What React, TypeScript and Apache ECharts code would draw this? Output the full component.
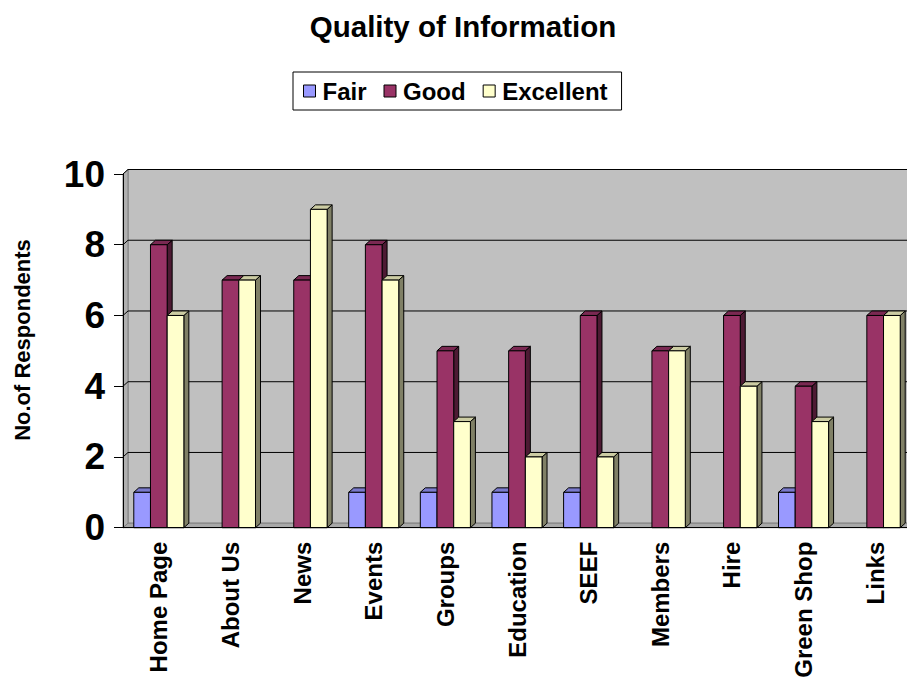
import React, { useEffect, useRef } from "react";
import * as echarts from "echarts";

// Survey results: respondents per rating for each website section
const categories = [
  "Home Page",
  "About Us",
  "News",
  "Events",
  "Groups",
  "Education",
  "SEEF",
  "Members",
  "Hire",
  "Green Shop",
  "Links",
];
const fair = [1, 0, 0, 1, 1, 1, 1, 0, 0, 1, 0];
const good = [8, 7, 7, 8, 5, 5, 6, 5, 6, 4, 6];
const excellent = [6, 7, 9, 7, 3, 2, 2, 5, 4, 3, 6];
const yTicks = [0, 2, 4, 6, 8, 10];

const FONT = '"Liberation Sans", Arial, Helvetica, sans-serif';
// depth offset of the pseudo-3D box (right and up)
const DX = 5;
const DY = 4.5;
// each column's width as a share of the category band
const BAR_RATIO = 0.233;

type Shade = { front: string; top: string; side: string };
const shades: Shade[] = [
  { front: "#9999FF", top: "#7A7ACC", side: "#4D4D80" },
  { front: "#993366", top: "#7A2952", side: "#4D1A33" },
  { front: "#FFFFCC", top: "#CCCCA3", side: "#808066" },
];

function columnSeries(name: string, values: number[], slot: number) {
  const shade = shades[slot];
  return {
    type: "custom",
    name,
    z: 2 + slot,
    data: values.map((v, i) => [i, v]),
    encode: { x: 0, y: 1 },
    itemStyle: { color: shade.front },
    renderItem: (_params: any, api: any) => {
      const idx = api.value(0);
      const v = api.value(1);
      if (!v) return { type: "group", children: [] };
      const band = api.size([1, 0])[0];
      const w = band * BAR_RATIO;
      const [cx, yv] = api.coord([idx, v]);
      const y0 = api.coord([idx, 0])[1];
      const x = cx - 1.5 * w + slot * w;
      const edge = { stroke: "#000", lineWidth: 1, lineJoin: "miter" };
      return {
        type: "group",
        children: [
          {
            type: "polygon",
            shape: {
              points: [
                [x + w, yv],
                [x + w + DX, yv - DY],
                [x + w + DX, y0 - DY],
                [x + w, y0],
              ],
            },
            style: { fill: shade.side, ...edge },
          },
          {
            type: "polygon",
            shape: {
              points: [
                [x, yv],
                [x + DX, yv - DY],
                [x + w + DX, yv - DY],
                [x + w, yv],
              ],
            },
            style: { fill: shade.top, ...edge },
          },
          {
            type: "rect",
            shape: { x, y: yv, width: w, height: y0 - yv },
            style: { fill: shade.front, ...edge },
          },
        ],
      };
    },
  };
}

// back wall, side wall, floor and gridlines of the plot box
const wallSeries = {
  type: "custom",
  name: "wall",
  silent: true,
  z: 1,
  data: [[0, 0]],
  encode: { x: 0, y: 1 },
  renderItem: (params: any, api: any) => {
    const cs = params.coordSys;
    const x0 = cs.x;
    const x1 = cs.x + cs.width + 20;
    const yT = cs.y;
    const yB = cs.y + cs.height;
    const children: any[] = [
      {
        type: "polygon",
        shape: {
          points: [
            [x0 + DX, yT - DY],
            [x1, yT - DY],
            [x1, yB - DY],
            [x0 + DX, yB - DY],
          ],
        },
        style: { fill: "#C0C0C0", stroke: "#808080", lineWidth: 1 },
      },
      {
        type: "polygon",
        shape: {
          points: [
            [x0, yB],
            [x0, yT],
            [x0 + DX, yT - DY],
            [x0 + DX, yB - DY],
          ],
        },
        style: { fill: "#B0B0B0", stroke: "#808080", lineWidth: 1 },
      },
      {
        type: "polygon",
        shape: {
          points: [
            [x0, yB],
            [x1, yB],
            [x1, yB - DY],
            [x0 + DX, yB - DY],
          ],
        },
        style: { fill: "#A8A8A8", stroke: "#808080", lineWidth: 1 },
      },
    ];
    for (const t of yTicks) {
      if (t === 0) continue;
      const y = api.coord([0, t])[1];
      children.push({
        type: "polyline",
        shape: {
          points: [
            [x0, y],
            [x0 + DX, y - DY],
            [x1, y - DY],
          ],
        },
        style: { stroke: "#000", lineWidth: 1, fill: null },
      });
    }
    return { type: "group", children };
  },
};

export default function App() {
  const ref = useRef<HTMLDivElement>(null);

  useEffect(() => {
    if (!ref.current) return;
    const chart = echarts.init(ref.current, undefined, { renderer: "svg" });
    chart.setOption({
      animation: false,
      backgroundColor: "#FFFFFF",
      textStyle: { fontFamily: FONT },
      title: {
        text: "Quality of Information",
        left: 458,
        textAlign: "center",
        top: 6,
        textStyle: {
          fontFamily: FONT,
          fontSize: 29.5,
          fontWeight: "bold",
          color: "#000",
        },
      },
      legend: {
        data: ["Fair", "Good", "Excellent"],
        left: 293,
        top: 72,
        padding: [7, 14, 7, 10],
        itemGap: 17,
        itemWidth: 12,
        itemHeight: 12,
        icon: "rect",
        borderColor: "#000",
        borderWidth: 1,
        itemStyle: { borderColor: "#000", borderWidth: 1 },
        textStyle: {
          fontFamily: FONT,
          fontSize: 24,
          fontWeight: "bold",
          color: "#000",
          padding: [0, 0, 0, 2],
        },
      },
      grid: {
        left: 123,
        top: 174,
        width: 788,
        height: 353.7,
        outerBoundsMode: "none",
      },
      xAxis: {
        type: "category",
        data: categories,
        z: 6,
        axisLine: { lineStyle: { color: "#000", width: 1 } },
        axisTick: { length: 7, lineStyle: { color: "#000" } },
        axisLabel: {
          rotate: 90,
          margin: 14,
          fontFamily: FONT,
          fontSize: 24,
          fontWeight: "bold",
          color: "#000",
          interval: 0,
        },
        splitLine: { show: false },
      },
      yAxis: {
        type: "value",
        min: 0,
        max: 10,
        interval: 2,
        z: 6,
        axisLine: { show: true, lineStyle: { color: "#000", width: 1 } },
        axisTick: { show: true, length: 9, lineStyle: { color: "#000" } },
        axisLabel: {
          margin: 18,
          fontFamily: FONT,
          fontSize: 37,
          fontWeight: "bold",
          color: "#000",
        },
        splitLine: { show: false },
      },
      graphic: [
        {
          type: "text",
          x: 22,
          y: 340,
          rotation: Math.PI / 2,
          style: {
            text: "No.of Respondents",
            fontFamily: FONT,
            fontSize: 22,
            fontWeight: "bold",
            fill: "#000",
            align: "center",
            verticalAlign: "middle",
          },
        },
      ],
      series: [
        wallSeries,
        columnSeries("Fair", fair, 0),
        columnSeries("Good", good, 1),
        columnSeries("Excellent", excellent, 2),
      ],
    });
    return () => chart.dispose();
  }, []);

  return (
    <div
      ref={ref}
      style={{ position: "absolute", left: 0, top: 0, width: 907, height: 681 }}
    />
  );
}
